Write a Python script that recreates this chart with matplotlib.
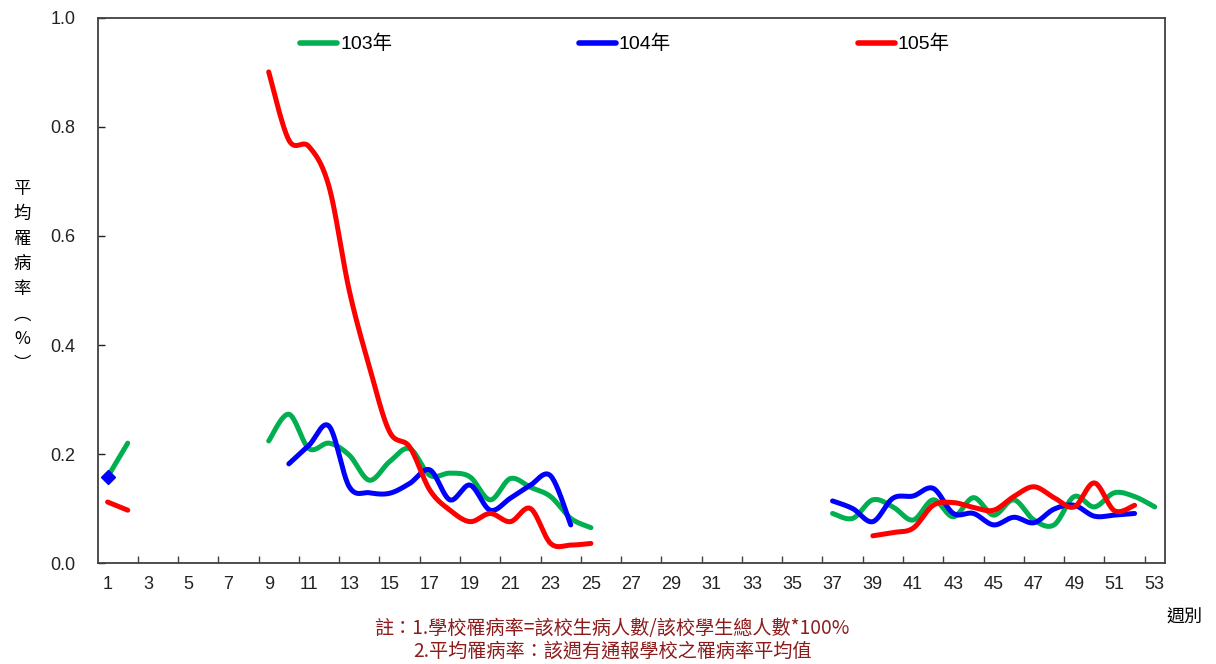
import numpy as np
import matplotlib
matplotlib.use("Agg")
import matplotlib.pyplot as plt
from matplotlib.ticker import FixedLocator, NullFormatter, FormatStrFormatter

plt.rcParams['font.family'] = ['Liberation Sans', 'Noto Sans CJK TC', 'DejaVu Sans']

nan = np.nan

# weekly average incidence rate (%), weeks 1..53
weeks = np.arange(1, 54)

rate_103 = [0.158, 0.220, nan, nan, nan, nan, nan, nan,
            0.224, 0.273, 0.210, 0.220, 0.198, 0.152, 0.186, 0.210, 0.161,
            0.165, 0.158, 0.116, 0.155, 0.139, 0.122, 0.082, 0.065,
            nan, nan, nan, nan, nan, nan, nan, nan, nan, nan, nan,
            0.091, 0.082, 0.116, 0.103, 0.079, 0.116, 0.085, 0.120, 0.088,
            0.116, 0.079, 0.070, 0.122, 0.103, 0.129, 0.122, 0.103]

rate_104 = [0.158, nan, nan, nan, nan, nan, nan, nan,
            nan, 0.182, 0.216, 0.251, 0.140, 0.129, 0.128, 0.146, 0.171,
            0.116, 0.143, 0.097, 0.119, 0.143, 0.160, 0.070, nan,
            nan, nan, nan, nan, nan, nan, nan, nan, nan, nan, nan,
            0.114, 0.100, 0.076, 0.119, 0.123, 0.137, 0.091, 0.091, 0.070,
            0.084, 0.074, 0.099, 0.106, 0.086, 0.088, 0.091, nan]

rate_105 = [0.112, 0.097, nan, nan, nan, nan, nan, nan,
            0.901, 0.776, 0.764, 0.690, 0.500, 0.360, 0.241, 0.213, 0.134,
            0.097, 0.076, 0.091, 0.076, 0.100, 0.036, 0.033, 0.036,
            nan, nan, nan, nan, nan, nan, nan, nan, nan, nan, nan,
            nan, nan, 0.050, 0.056, 0.064, 0.106, 0.111, 0.102, 0.097,
            0.122, 0.140, 0.120, 0.103, 0.147, 0.096, 0.106, nan]

series = [("103年", rate_103, "#00B050"),
          ("104年", rate_104, "#0000FF"),
          ("105年", rate_105, "#FF0000")]

y_ticks = [0.0, 0.2, 0.4, 0.6, 0.8, 1.0]
x_labels = list(range(1, 54, 2))


def smooth_run(x, y, n=24):
    """Bezier smoothing through consecutive points (Catmull-Rom style)."""
    pts = np.column_stack([x, y])
    if len(pts) < 3:
        return pts[:, 0], pts[:, 1]
    ext = np.vstack([pts[0], pts, pts[-1]])
    out = []
    t = np.linspace(0, 1, n)[:, None]
    for i in range(1, len(ext) - 2):
        p0, p3 = ext[i], ext[i + 1]
        p1 = p0 + (ext[i + 1] - ext[i - 1]) / 6.0
        p2 = p3 - (ext[i + 2] - ext[i]) / 6.0
        seg = ((1 - t) ** 3) * p0 + 3 * ((1 - t) ** 2) * t * p1 \
            + 3 * (1 - t) * t ** 2 * p2 + t ** 3 * p3
        out.append(seg if i == 1 else seg[1:])
    arr = np.vstack(out)
    return arr[:, 0], arr[:, 1]


fig = plt.figure(figsize=(12.16, 6.64), dpi=100)
ax = fig.add_axes([0.0802, 0.152, 0.8777, 0.821])

for label, vals, color in series:
    v = np.array(vals, dtype=float)
    valid = ~np.isnan(v)
    # split into contiguous runs of reported weeks
    idx = np.where(valid)[0]
    runs = np.split(idx, np.where(np.diff(idx) > 1)[0] + 1)
    first = True
    for r in runs:
        if len(r) == 0:
            continue
        xs, ys = weeks[r], v[r]
        if len(r) == 1:
            ax.plot(xs, ys, linestyle='none', marker='D', markersize=7,
                    color=color, zorder=3)
            continue
        sx, sy = smooth_run(xs.astype(float), ys)
        ax.plot(sx, sy, color=color, lw=3.6, solid_capstyle='round',
                label=label if first else None, zorder=2)
        first = False

ax.set_xlim(0.5, 53.5)
ax.set_ylim(0, 1.0)

ax.yaxis.set_major_locator(FixedLocator(y_ticks))
ax.yaxis.set_major_formatter(FormatStrFormatter('%.1f'))
ax.tick_params(axis='y', which='major', direction='in', length=5,
               width=1, pad=16, labelsize=13, colors='#222222')

ax.xaxis.set_major_locator(FixedLocator(x_labels))
ax.xaxis.set_minor_locator(FixedLocator(np.arange(2.5, 53, 2)))
ax.xaxis.set_minor_formatter(NullFormatter())
ax.tick_params(axis='x', which='major', length=0, pad=9, labelsize=13,
               colors='#222222')
ax.tick_params(axis='x', which='minor', direction='in', length=5, width=1,
               color='#404040')

for s in ax.spines.values():
    s.set_color('#404040')
    s.set_linewidth(1.3)

leg = ax.legend(loc='center left', bbox_to_anchor=(0.19, 0.952), ncol=3,
                frameon=False, fontsize=14, handlelength=1.9,
                handletextpad=0.15, columnspacing=9.6, borderpad=0,
                borderaxespad=0)
for h in leg.get_lines():
    h.set_linewidth(4.0)

fig.text(0.018, 0.583, "平\n均\n罹\n病\n率\n︵\n%\n︶", ha='center', va='center',
         fontsize=12.5, linespacing=1.5, family=['Noto Sans CJK TC', 'DejaVu Sans'])

fig.text(0.9745, 0.070, "週別", ha='center', va='center', fontsize=13,
         family=['Noto Sans CJK TC'])

note_color = '#8C1C1C'
fig.text(0.308, 0.054, "註：1.學校罹病率=該校生病人數/該校學生總人數*100%",
         ha='left', va='center', fontsize=13.8, color=note_color,
         family=['Noto Sans CJK TC'])
fig.text(0.340, 0.0196, "2.平均罹病率：該週有通報學校之罹病率平均值",
         ha='left', va='center', fontsize=13.8, color=note_color,
         family=['Noto Sans CJK TC'])

fig.savefig("out.png", dpi=100)
